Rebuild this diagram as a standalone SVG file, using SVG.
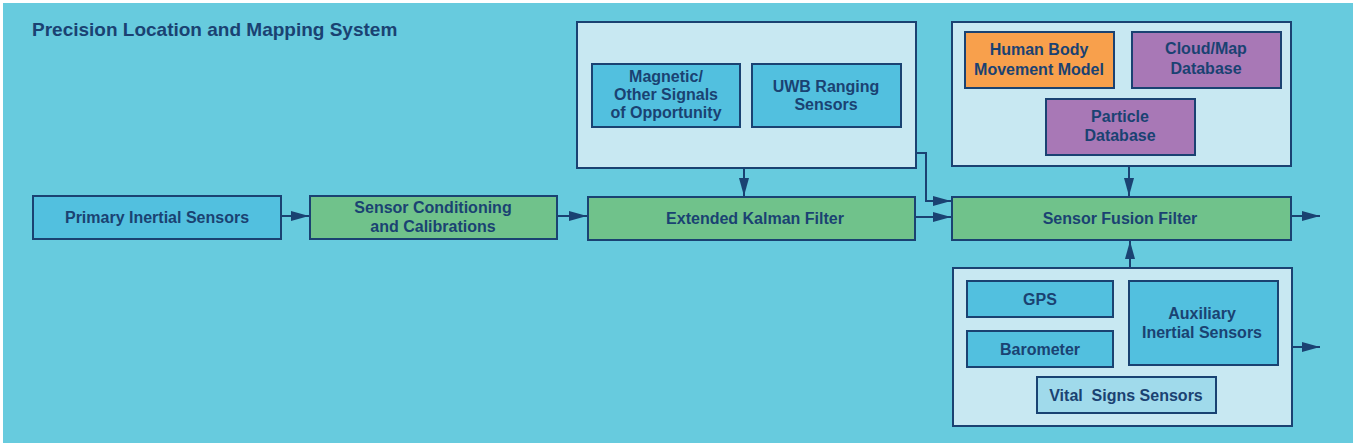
<svg xmlns="http://www.w3.org/2000/svg" width="1356" height="446" viewBox="0 0 1356 446">
<style>
text{font-family:"Liberation Sans",Arial,sans-serif;font-weight:bold;fill:#1A4272;font-size:16px;text-anchor:middle}
.title{font-size:19px;text-anchor:start}
.b{stroke:#1A4272;stroke-width:2}
.panel{fill:#C8E8F2}
.blue{fill:#52C0DF}
.green{fill:#70C28B}
.orange{fill:#F8A04C}
.purple{fill:#A878B6}
.vital{fill:#A0DAEB}
.c{fill:none;stroke:#1A4272;stroke-width:2}
</style>
<defs>
<marker id="ah" viewBox="0 0 18 10" refX="18" refY="5" markerWidth="18" markerHeight="10" markerUnits="userSpaceOnUse" orient="auto">
<path d="M0,0 L18,5 L0,10 Z" fill="#1A4272"/>
</marker>
</defs>
<rect x="0" y="0" width="1356" height="446" fill="#FFFFFF"/>
<rect x="3" y="3" width="1350" height="440" fill="#67CBDE"/>
<text class="title" x="32" y="36">Precision Location and Mapping System</text>

<g id="primary"><rect class="b blue" x="33" y="196" width="248" height="43"/><text x="157" y="223">Primary Inertial Sensors</text></g>
<g id="conditioning"><rect class="b green" x="310" y="196" width="247" height="43"/><text x="433" y="213">Sensor Conditioning</text><text x="433" y="232">and Calibrations</text></g>
<g id="ekf"><rect class="b green" x="588" y="197" width="327" height="43"/><text x="755" y="224">Extended Kalman Filter</text></g>

<g id="upper-panel"><rect class="b panel" x="577" y="22" width="339" height="146"/></g>
<g id="magnetic"><rect class="b blue" x="592" y="64" width="148" height="63"/><text x="666" y="82">Magnetic/</text><text x="666" y="100">Other Signals</text><text x="666" y="118">of Opportunity</text></g>
<g id="uwb"><rect class="b blue" x="752" y="64" width="149" height="63"/><text x="826" y="92">UWB Ranging</text><text x="826" y="110">Sensors</text></g>

<g id="sff"><rect class="b green" x="952" y="197" width="339" height="43"/><text x="1120" y="224">Sensor Fusion Filter</text></g>

<g id="upper-right-panel"><rect class="b panel" x="952" y="22" width="339" height="144"/></g>
<g id="human"><rect class="b orange" x="965" y="32" width="149" height="56"/><text x="1039" y="55">Human Body</text><text x="1039" y="75">Movement Model</text></g>
<g id="cloud"><rect class="b purple" x="1132" y="32" width="149" height="56"/><text x="1206" y="54">Cloud/Map</text><text x="1206" y="74">Database</text></g>
<g id="particle"><rect class="b purple" x="1046" y="99" width="149" height="56"/><text x="1120" y="122">Particle</text><text x="1120" y="141">Database</text></g>

<g id="lower-panel"><rect class="b panel" x="953" y="268" width="339" height="158"/></g>
<g id="gps"><rect class="b blue" x="967" y="281" width="146" height="36"/><text x="1040" y="305">GPS</text></g>
<g id="barometer"><rect class="b blue" x="967" y="331" width="146" height="36"/><text x="1040" y="355">Barometer</text></g>
<g id="auxiliary"><rect class="b blue" x="1129" y="281" width="149" height="84"/><text x="1202" y="319">Auxiliary</text><text x="1202" y="338">Inertial Sensors</text></g>
<g id="vital"><rect class="b vital" x="1037" y="377" width="179" height="36"/><text x="1126" y="401">Vital&#160; Signs Sensors</text></g>

<g id="connectors">
<line class="c" x1="281" y1="216" x2="309" y2="216" marker-end="url(#ah)"/>
<line class="c" x1="557" y1="216" x2="587" y2="216" marker-end="url(#ah)"/>
<line class="c" x1="744" y1="168" x2="744" y2="196" marker-end="url(#ah)"/>
<polyline class="c" points="916,153 926,153 926,201 951,201" marker-end="url(#ah)"/>
<line class="c" x1="915" y1="217" x2="951" y2="217" marker-end="url(#ah)"/>
<line class="c" x1="1129" y1="166" x2="1129" y2="196" marker-end="url(#ah)"/>
<line class="c" x1="1130" y1="268" x2="1130" y2="241" marker-end="url(#ah)"/>
<line class="c" x1="1291" y1="216" x2="1320" y2="216" marker-end="url(#ah)"/>
<line class="c" x1="1292" y1="347" x2="1320" y2="347" marker-end="url(#ah)"/>
</g>
</svg>
